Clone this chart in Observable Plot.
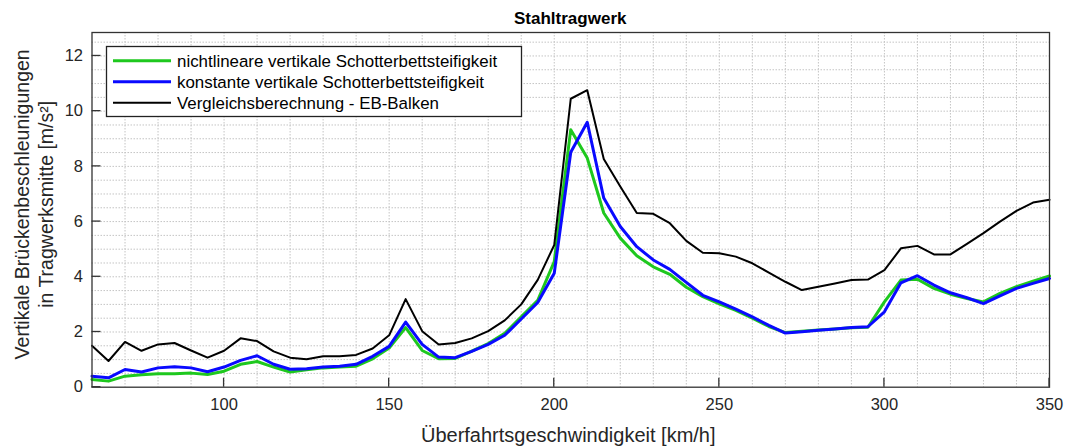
<!DOCTYPE html>
<html>
<head>
<meta charset="utf-8">
<script src="https://cdn.jsdelivr.net/npm/d3@7"></script>
<script src="https://cdn.jsdelivr.net/npm/@observablehq/plot@0.6"></script>
<style>
  html, body { margin: 0; padding: 0; background: #fff; }
  #chart { width: 1067px; height: 447px; }
</style>
</head>
<body>
<div id="chart"></div>
<script>
// Data
const speeds = [60,65,70,75,80,85,90,95,100,105,110,115,120,125,130,135,140,145,150,155,160,165,170,175,180,185,190,195,200,205,210,215,220,225,230,235,240,245,250,255,260,265,270,275,280,285,290,295,300,305,310,315,320,325,330,335,340,345,350];
const nichtlinear = [0.28,0.22,0.40,0.45,0.49,0.49,0.51,0.46,0.58,0.83,0.93,0.73,0.55,0.63,0.70,0.73,0.76,1.03,1.42,2.16,1.33,1.03,1.04,1.31,1.58,1.95,2.55,3.15,4.55,9.33,8.30,6.31,5.40,4.76,4.36,4.09,3.62,3.28,3.02,2.78,2.50,2.20,1.98,2.03,2.07,2.11,2.15,2.17,3.09,3.88,3.91,3.58,3.37,3.21,3.09,3.40,3.64,3.84,4.03];
const konstant = [0.40,0.34,0.64,0.55,0.70,0.74,0.70,0.56,0.73,0.97,1.14,0.83,0.65,0.67,0.73,0.76,0.83,1.12,1.48,2.36,1.55,1.09,1.07,1.30,1.55,1.88,2.47,3.07,4.13,8.51,9.60,6.85,5.82,5.09,4.61,4.27,3.80,3.33,3.09,2.83,2.55,2.24,1.96,2.01,2.06,2.11,2.16,2.19,2.73,3.78,4.04,3.70,3.42,3.24,3.03,3.31,3.58,3.76,3.94];
const ebBalken = [1.50,0.95,1.64,1.32,1.55,1.60,1.33,1.07,1.32,1.77,1.67,1.30,1.07,1.01,1.12,1.12,1.17,1.40,1.88,3.19,2.03,1.55,1.60,1.77,2.03,2.42,3.00,3.89,5.15,10.45,10.76,8.27,7.27,6.31,6.28,5.94,5.30,4.87,4.85,4.73,4.49,4.15,3.82,3.52,3.64,3.76,3.88,3.90,4.24,5.03,5.12,4.81,4.81,5.19,5.58,6.00,6.39,6.69,6.79];
const seriesNames = ["nichtlineare vertikale Schotterbettsteifigkeit","konstante vertikale Schotterbettsteifigkeit","Vergleichsberechnung - EB-Balken"];
const xTicks = [100,150,200,250,300,350];
const yTicks = [0,2,4,6,8,10,12];
const titleText = "Stahltragwerk";
const xLabel = "Überfahrtsgeschwindigkeit [km/h]";
const yLabel1 = "Vertikale Brückenbeschleunigungen";
const yLabel2 = "in Tragwerksmitte [m/s²]";

const colors = ["#1ec81e", "#0a0aff", "#000000"];
const widths = [3, 3, 2];
const series = [nichtlinear, konstant, ebBalken];

const rows = (vals) => speeds.map((s, i) => ({x: s, y: vals[i]}));

const W = 1067, H = 447;
const mL = 91.5, mR = 18, mT = 32, mB = 60.3;
const font = "'Liberation Sans', Arial, Helvetica, sans-serif";

const plot = Plot.plot({
  width: W, height: H,
  marginLeft: mL, marginRight: mR, marginTop: mT, marginBottom: mB,
  x: {domain: [60, 350]},
  y: {domain: [0, 12.85]},
  style: {fontFamily: font, fontSize: "16px", color: "#262626", background: "#fff", overflow: "visible"},
  marks: [
    Plot.ruleX(d3.range(70, 350, 10), {stroke: "#c4c4c4", strokeDasharray: "1.5,1.5", strokeWidth: 1}),
    Plot.ruleY(d3.range(0.5, 12.85, 0.5), {stroke: "#c4c4c4", strokeDasharray: "1.5,1.5", strokeWidth: 1}),
    ...series.map((vals, k) => Plot.line(rows(vals), {x: "x", y: "y", stroke: colors[k], strokeWidth: widths[k], strokeLinejoin: "round"})),
    Plot.frame({stroke: "#333", strokeWidth: 1.3}),
    Plot.axisX(xTicks, {tickSize: 0, tickPadding: 11, label: null, fontSize: 16.5}),
    Plot.axisY(yTicks, {tickSize: 0, tickPadding: 9, label: null, fontSize: 16.5})
  ]
});

document.getElementById("chart").appendChild(plot);

const svg = d3.select(plot);
const sx = plot.scale("x"), sy = plot.scale("y");
const px0 = mL, px1 = W - mR, py0 = mT, py1 = H - mB;
const cx = (px0 + px1) / 2, cy = (py0 + py1) / 2;

// Inward tick marks
const tk = svg.append("g").attr("stroke", "#333").attr("stroke-width", 1.3);
xTicks.forEach(v => {
  const x = sx.apply(v);
  tk.append("line").attr("x1", x).attr("x2", x).attr("y1", py1).attr("y2", py1 - 9);
});
yTicks.forEach(v => {
  const y = sy.apply(v);
  tk.append("line").attr("x1", px0).attr("x2", px0 + 9).attr("y1", y).attr("y2", y);
});

// Title
svg.append("text").attr("x", cx).attr("y", 24).attr("text-anchor", "middle")
  .attr("font-family", font).attr("font-size", 17).attr("font-weight", "bold").attr("fill", "#000")
  .text(titleText);

// X label
svg.append("text").attr("x", cx - 2).attr("y", 442).attr("text-anchor", "middle")
  .attr("font-family", font).attr("font-size", 20).attr("fill", "#262626")
  .text(xLabel);

// Y labels
[[yLabel1, 22], [yLabel2, 46]].forEach(([t, x]) => {
  svg.append("text").attr("transform", `translate(${x + 7},${cy - 5}) rotate(-90)`)
    .attr("text-anchor", "middle")
    .attr("font-family", font).attr("font-size", 19.5).attr("fill", "#262626")
    .text(t);
});

// Legend
const lg = svg.append("g");
lg.append("rect").attr("x", 106.5).attr("y", 46.5).attr("width", 415).attr("height", 70)
  .attr("fill", "#fff").attr("stroke", "#222").attr("stroke-width", 1.3);
seriesNames.forEach((name, k) => {
  const y = 60.7 + k * 21;
  lg.append("line").attr("x1", 113).attr("x2", 171).attr("y1", y).attr("y2", y)
    .attr("stroke", colors[k]).attr("stroke-width", widths[k]);
  lg.append("text").attr("x", 177).attr("y", y).attr("dy", "0.35em")
    .attr("text-anchor", "start")
    .attr("font-family", font).attr("font-size", 16.9).attr("fill", "#000")
    .text(name);
});
</script>
</body>
</html>
